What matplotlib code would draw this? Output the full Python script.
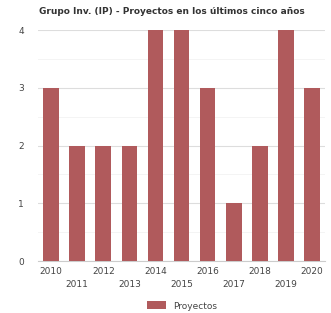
import matplotlib
matplotlib.use("Agg")
import matplotlib.pyplot as plt
from matplotlib.ticker import MultipleLocator

years = ["2010", "2011", "2012", "2013", "2014", "2015", "2016", "2017", "2018", "2019", "2020"]
proyectos = [3, 2, 2, 2, 4, 4, 3, 1, 2, 4, 3]
title = "Grupo Inv. (IP) - Proyectos en los últimos cinco años"
series_name = "Proyectos"

fig = plt.figure(figsize=(3.31, 3.13), dpi=100)
ax = fig.add_axes([0.115, 0.166, 0.867, 0.738])
x = list(range(len(years)))
ax.bar(x, proyectos, width=0.6, color="#b05a5c", label=series_name, zorder=3)
ax.set_xlim(-0.5, len(years) - 0.5)
ax.set_ylim(0, 4)
ax.yaxis.set_major_locator(MultipleLocator(1))
ax.yaxis.set_minor_locator(MultipleLocator(0.5))
ax.grid(axis="y", which="major", color="#dddddd", linewidth=0.8, zorder=0)
ax.grid(axis="y", which="minor", color="#f2f2f2", linewidth=0.6, zorder=0)
for s in ["top", "right", "left"]:
    ax.spines[s].set_visible(False)
ax.spines["bottom"].set_color("#cccccc")
ax.tick_params(axis="both", which="both", length=0, colors="#444444", labelsize=6.5)
ax.tick_params(axis="y", pad=10)
ax.set_xticks(x)
labels = [("" if i % 2 == 0 else "\n") + y for i, y in enumerate(years)]
ax.set_xticklabels(labels, linespacing=1.6)
ax.tick_params(axis="x", pad=4)
ax.set_yticks([0, 1, 2, 3, 4])
fig.text(0.118, 0.962, title, fontsize=6.5, fontweight="bold", color="#333333", ha="left", va="center")
fig.legend(loc="lower center", bbox_to_anchor=(0.55, -0.018), frameon=False, fontsize=6.5,
           handlelength=2.2, handleheight=1.0, labelcolor="#444444")
fig.savefig("out.png", dpi=100, facecolor="white")
